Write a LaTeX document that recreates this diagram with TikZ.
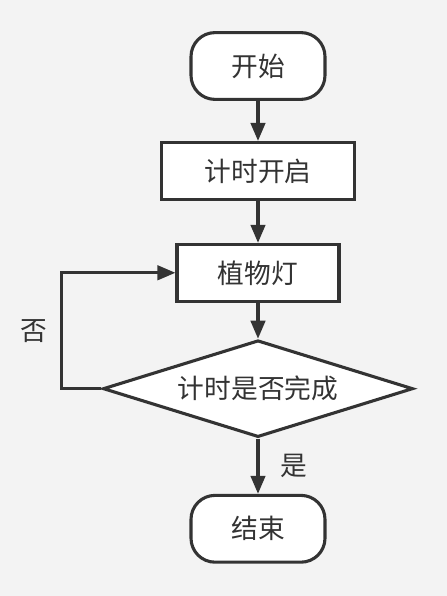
\documentclass[tikz,border=0pt]{standalone}
\usepackage{fontspec}
\setmainfont{Noto Sans CJK SC}
\usetikzlibrary{positioning,arrows.meta}
\usetikzlibrary{shapes.geometric}
\definecolor{ink}{HTML}{333333}
\definecolor{paper}{HTML}{F3F3F3}

\begin{document}
\begin{tikzpicture}
  [font=\fontsize{19}{21}\selectfont,
   line/.style={draw=ink,line width=2.2pt,-{Triangle[length=0.45cm,width=0.36cm]}},
   terminal/.style={draw=ink,fill=white,line width=2.2pt,text=ink,rounded corners=0.6cm,minimum width=3.35cm,minimum height=1.67cm},
   process/.style={draw=ink,fill=white,line width=2.2pt,text=ink,minimum height=1.42cm},
   decision/.style={diamond,draw=ink,fill=white,line width=2.2pt,text=ink,aspect=3.2,inner sep=0pt,minimum width=7.75cm,minimum height=2.42cm}
  ]

  % background
  \fill[paper] (0,0) rectangle (11.175,-14.9);
  \useasboundingbox (0,0) rectangle (11.175,-14.9);

  % boxes
  \node[terminal] (start) at (6.45,-1.65) {开始};
  \node[process,minimum width=4.82cm,below=1.0cm of start] (timer) {计时开启};
  \node[process,minimum width=4.05cm,below=1.05cm of timer] (lamp) {植物灯};
  \node[decision,below=0.9cm of lamp] (check) {计时是否完成};
  \node[terminal,below=1.38cm of check] (stop) {结束};

  % connections
  \draw[line] (start) -- (timer);
  \draw[line] (timer) -- (lamp);
  \draw[line] (lamp) -- (check);
  \draw[line] (check) -- node[right=0.4cm,text=ink]{是} (stop);
  \draw[line] (check.west) -- ++(-1.0,0) |- node[pos=0.25,left=0.2cm,text=ink]{否} (lamp.west);
\end{tikzpicture}
\end{document}
